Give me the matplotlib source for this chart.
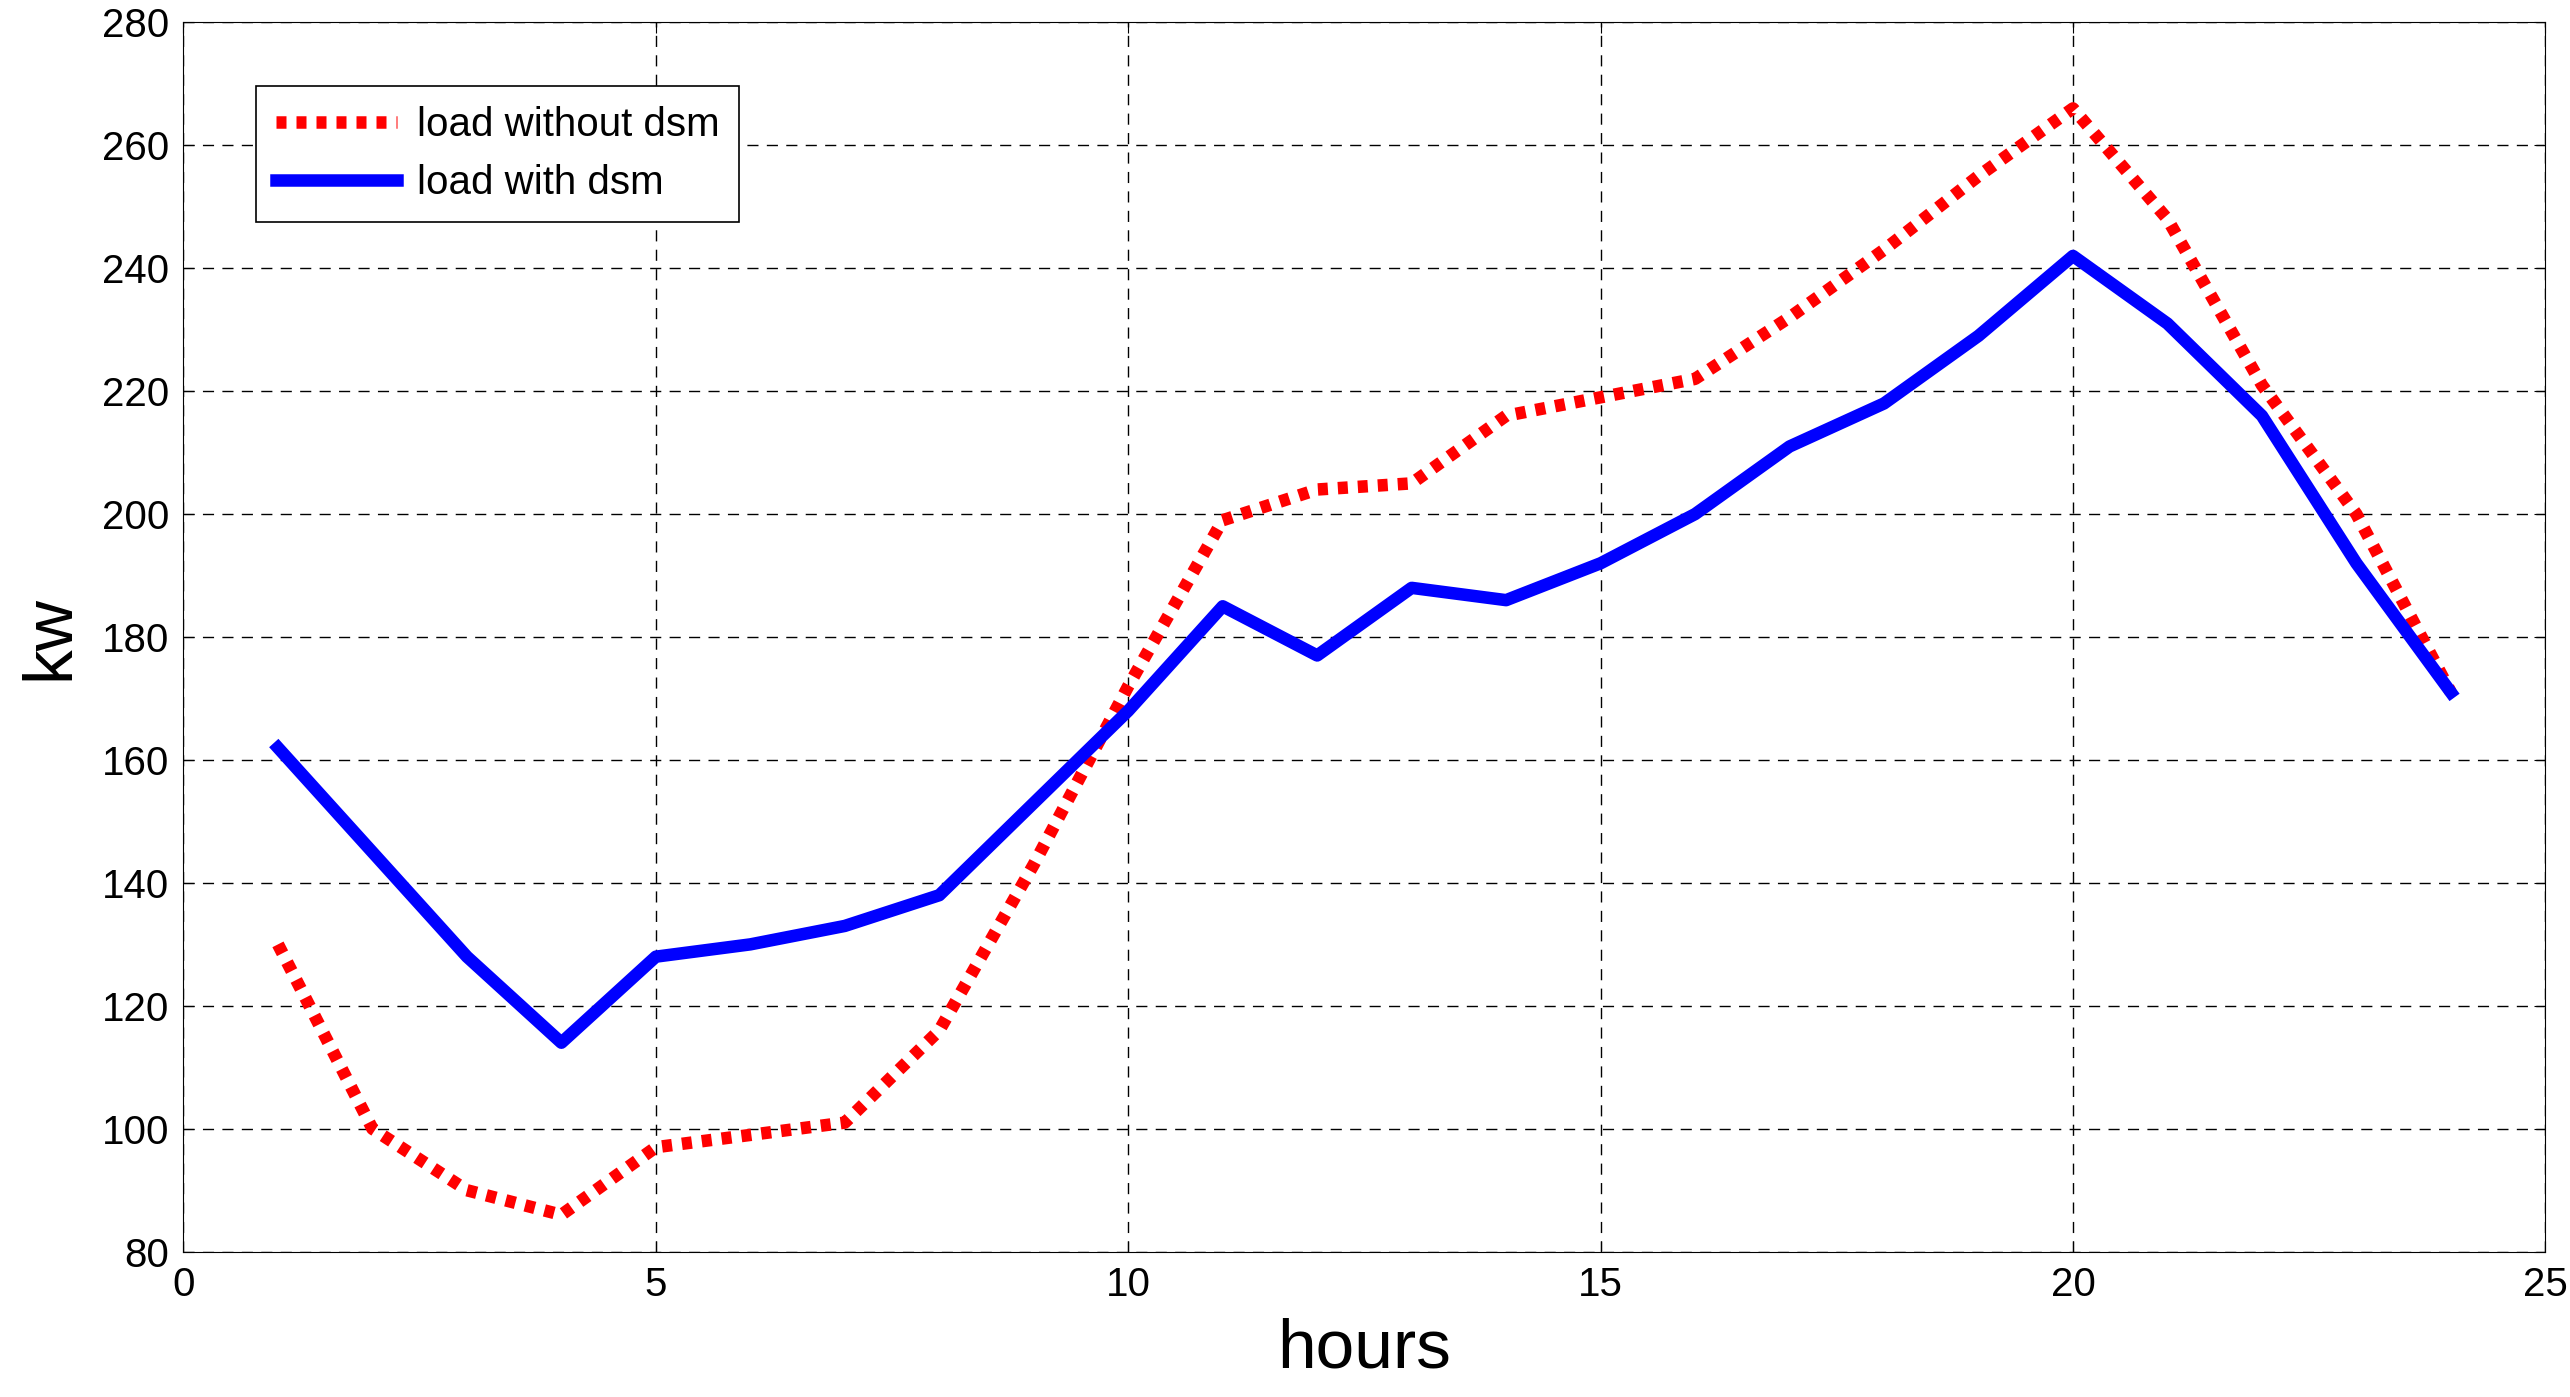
import matplotlib
matplotlib.use("Agg")
import matplotlib.pyplot as plt

hours = list(range(1, 25))
load_without_dsm = [130, 100, 90, 86, 97, 99, 101, 116, 143, 172, 199, 204,
                    205, 216, 219, 222, 232, 243, 255, 266, 248, 221, 200, 171]
load_with_dsm = [162, 145, 128, 114, 128, 130, 133, 138, 153, 168, 185, 177,
                 188, 186, 192, 200, 211, 218, 229, 242, 231, 216, 192, 171]

plt.rcParams["font.family"] = ["Liberation Sans", "DejaVu Sans"]
fig = plt.figure(figsize=(25.7, 13.97), dpi=100)
ax = fig.add_axes([0.0714, 0.104, 0.919, 0.880])

ax.plot(hours, load_without_dsm, color="red", lw=9, ls=(0, (0.8, 0.8)),
        label="load without dsm")
ax.plot(hours, load_with_dsm, color="blue", lw=9, label="load with dsm")

ax.set_xlim(0, 25)
ax.set_ylim(80, 280)
ax.set_xticks(range(0, 26, 5))
ax.set_yticks(range(80, 281, 20))
ax.tick_params(labelsize=29, direction="in", length=8, pad=10, top=True, right=True)
ax.grid(True, color="black", ls=(0, (8, 6)), lw=1)
ax.set_xlabel("hours", fontsize=50, labelpad=10)
ax.set_ylabel("kw", fontsize=50, labelpad=14)
leg = ax.legend(loc="upper left", bbox_to_anchor=(0.022, 0.965), fontsize=29,
                fancybox=False, framealpha=1, edgecolor="black",
                handlelength=3.0, handletextpad=0.5, borderpad=0.5)
leg.get_frame().set_linewidth(1.2)

fig.savefig("out.png", dpi=100)
